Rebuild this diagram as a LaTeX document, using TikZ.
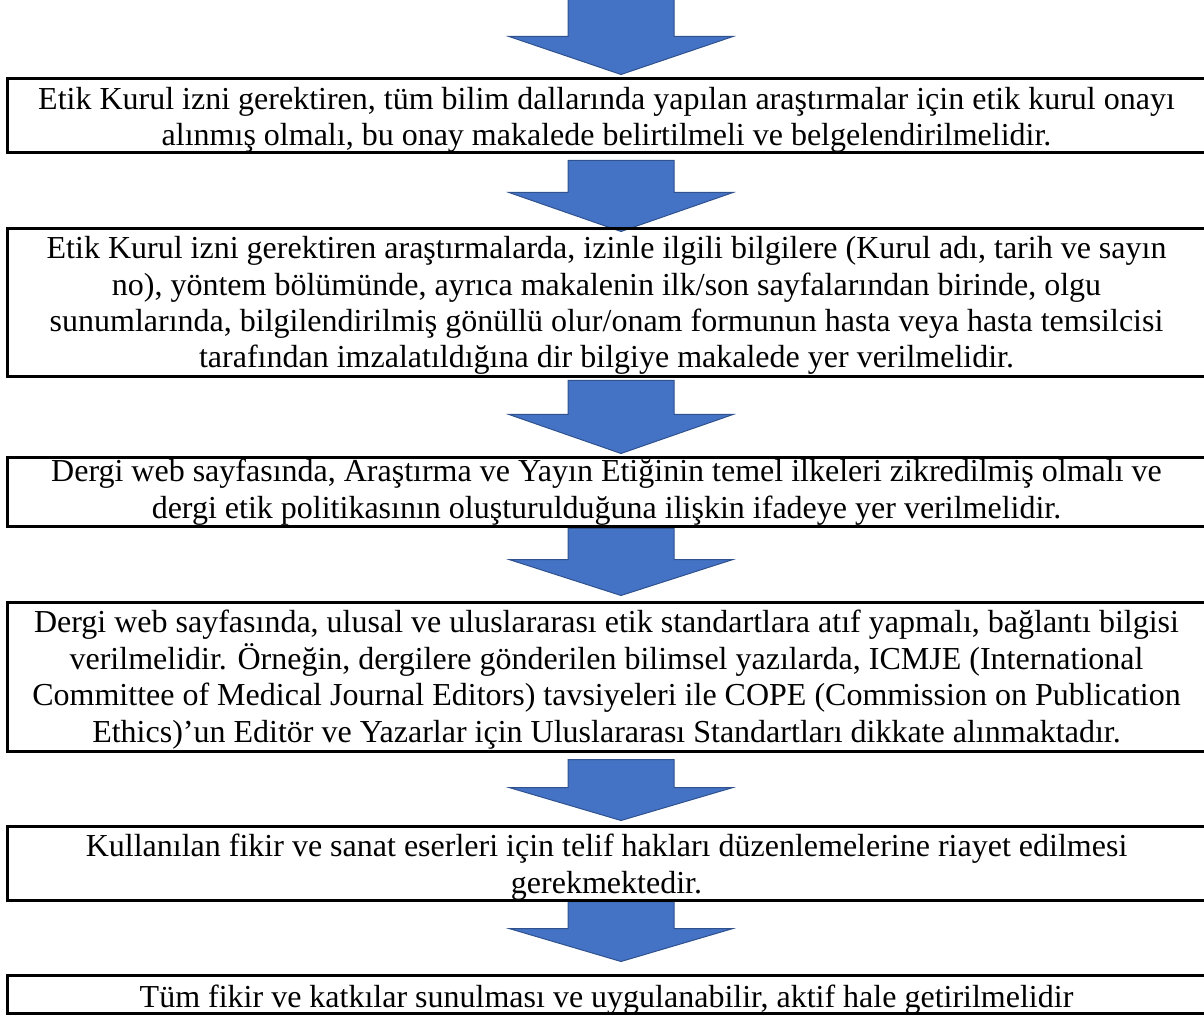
\documentclass[tikz,border=0pt]{standalone}
\usepackage{fontspec}
\setmainfont{Liberation Serif}
\usepackage{tikz}
\usetikzlibrary{calc, positioning, backgrounds}
\definecolor{arrow_blue}{HTML}{4472C4}
\definecolor{arrow_edge}{HTML}{2F528F}
\tikzset{
  stepbox/.style={draw, line width=1.5pt, minimum width=599.5pt, inner sep=0pt, align=center,
    font=\fontsize{16pt}{18.2pt}\selectfont},
  flowarrow/.style={fill=arrow_blue, draw=arrow_edge, line width=0.5pt}
}
% block arrow: start point, tip point, head length
\newcommand\blockarrow[3]{%
  \filldraw[flowarrow] let \p1=#1, \p2=#2 in
    (\x1-26.5pt,\y1) -- (\x1+26.5pt,\y1) -- (\x1+26.5pt,\y2+#3) -- (\x1+56pt,\y2+#3)
    -- (\x2,\y2) -- (\x1-56pt,\y2+#3) -- (\x1-26.5pt,\y2+#3) -- cycle;}

\begin{document}
\begin{tikzpicture}[x=0.5pt, y=-0.5pt]
  \useasboundingbox (0,0) rectangle (1204,1015);
  \coordinate (axis) at (621,0);
  \coordinate (top) at (621,-2);
  \node[stepbox, minimum height=37pt, text height=33.5pt, text depth=3.5pt] (b1) at (606.5,116)
    {Etik Kurul izni gerektiren, tüm bilim dallarında yapılan araştırmalar için etik kurul onayı\\
     alınmış olmalı, bu onay makalede belirtilmeli ve belgelendirilmelidir.};
  \node[stepbox, minimum height=74pt, text height=69.5pt, text depth=4.5pt] (b2) at (606.5,303)
    {Etik Kurul izni gerektiren araştırmalarda, izinle ilgili bilgilere (Kurul adı, tarih ve sayın\\
     no), yöntem bölümünde, ayrıca makalenin ilk/son sayfalarından birinde, olgu\\
     sunumlarında, bilgilendirilmiş gönüllü olur/onam formunun hasta veya hasta temsilcisi\\
     tarafından imzalatıldığına dir bilgiye makalede yer verilmelidir.};
  \node[stepbox, minimum height=34.5pt, text height=30pt, text depth=4.5pt] (b3) at (606.5,492.5)
    {Dergi web sayfasında, Araştırma ve Yayın Etiğinin temel ilkeleri zikredilmiş olmalı ve\\
     dergi etik politikasının oluşturulduğuna ilişkin ifadeye yer verilmelidir.};
  \node[stepbox, minimum height=74.5pt, text height=70pt, text depth=4.5pt] (b4) at (606.5,676.5)
    {Dergi web sayfasında, ulusal ve uluslararası etik standartlara atıf yapmalı, bağlantı bilgisi\\
     verilmelidir. Örneğin, dergilere gönderilen bilimsel yazılarda, ICMJE (International\\
     Committee of Medical Journal Editors) tavsiyeleri ile COPE (Commission on Publication\\
     Ethics)’un Editör ve Yazarlar için Uluslararası Standartları dikkate alınmaktadır.};
  \node[stepbox, minimum height=37pt, text height=33.5pt, text depth=3.5pt] (b5) at (606.5,863)
    {Kullanılan fikir ve sanat eserleri için telif hakları düzenlemelerine riayet edilmesi\\
     gerekmektedir.};
  \node[stepbox, minimum height=19pt, text height=16pt, text depth=3pt] (b6) at (606.5,994)
    {Tüm fikir ve katkılar sunulması ve uygulanabilir, aktif hale getirilmelidir};
  \begin{pgfonlayer}{background}
    \blockarrow{(top)}{($(b1.north -| axis)+(0,-3)$)}{19pt}
    \blockarrow{($(b1.south -| axis)+(0,6)$)}{($(b2.north -| axis)+(0,4)$)}{19.5pt}
    \blockarrow{($(b2.south -| axis)+(0,2)$)}{($(b3.north -| axis)+(0,-3)$)}{19.5pt}
    \blockarrow{($(b3.south -| axis)+(0,0)$)}{($(b4.north -| axis)+(0,-5)$)}{18pt}
    \blockarrow{($(b4.south -| axis)+(0,7)$)}{($(b5.north -| axis)+(0,-4)$)}{16.5pt}
    \blockarrow{($(b5.south -| axis)+(0,0)$)}{($(b6.north -| axis)+(0,-12)$)}{16.5pt}
  \end{pgfonlayer}
\end{tikzpicture}
\end{document}
